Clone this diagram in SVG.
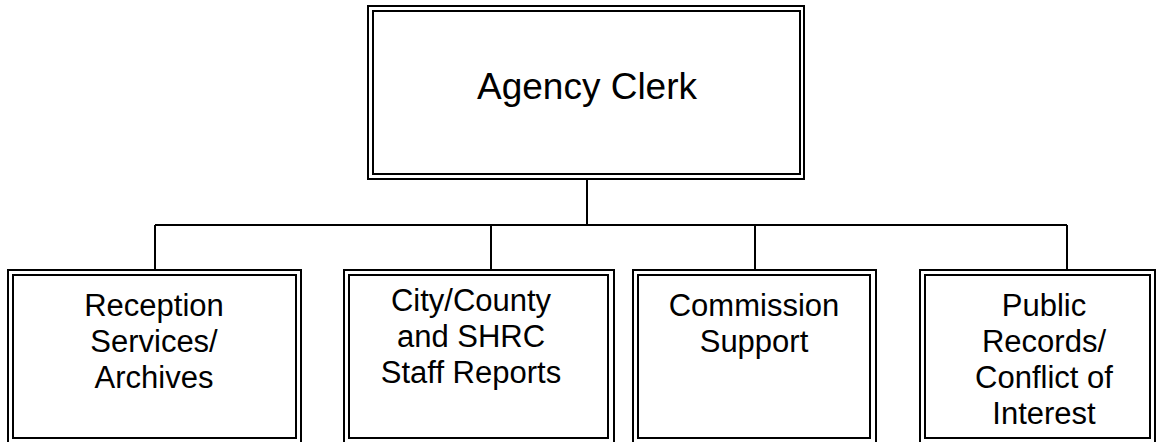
<svg xmlns="http://www.w3.org/2000/svg" width="1161" height="442" viewBox="0 0 1161 442">
<style>
.box{fill:none;stroke:#000;stroke-width:2}
.conn{fill:none;stroke:#000;stroke-width:2}
.t{font-family:"Liberation Sans",Arial,sans-serif;fill:#000;text-anchor:middle}
.top{font-size:37px}
.sub{font-size:31px}
</style>
<rect width="1161" height="442" fill="#fff"/>
<g id="connectors">
<path class="conn" d="M587 179V225M155 225H1067M155 225V270M491 225V270M755 225V270M1067 225V270"/>
</g>
<g id="agency-clerk">
<rect class="box" x="368" y="6" width="436" height="173"/>
<rect class="box" x="373" y="11" width="427" height="163"/>
<text class="t top" x="587" y="99">Agency Clerk</text>
</g>
<g id="reception">
<rect class="box" x="8" y="270" width="293" height="173"/>
<rect class="box" x="13" y="275" width="283" height="163"/>
<text class="t sub" x="154" y="316">Reception</text>
<text class="t sub" x="154" y="352">Services/</text>
<text class="t sub" x="154" y="388">Archives</text>
</g>
<g id="staff-reports">
<rect class="box" x="344" y="270" width="270" height="173"/>
<rect class="box" x="349" y="275" width="259" height="163"/>
<text class="t sub" x="471" y="311">City/County</text>
<text class="t sub" x="471" y="347">and SHRC</text>
<text class="t sub" x="471" y="383">Staff Reports</text>
</g>
<g id="commission-support">
<rect class="box" x="633" y="270" width="243" height="173"/>
<rect class="box" x="638" y="275" width="232" height="163"/>
<text class="t sub" x="754" y="316">Commission</text>
<text class="t sub" x="754" y="352">Support</text>
</g>
<g id="public-records">
<rect class="box" x="920" y="270" width="235" height="173"/>
<rect class="box" x="925" y="275" width="225" height="163"/>
<text class="t sub" x="1044" y="316">Public</text>
<text class="t sub" x="1044" y="352">Records/</text>
<text class="t sub" x="1044" y="388">Conflict of</text>
<text class="t sub" x="1044" y="424">Interest</text>
</g>
</svg>
